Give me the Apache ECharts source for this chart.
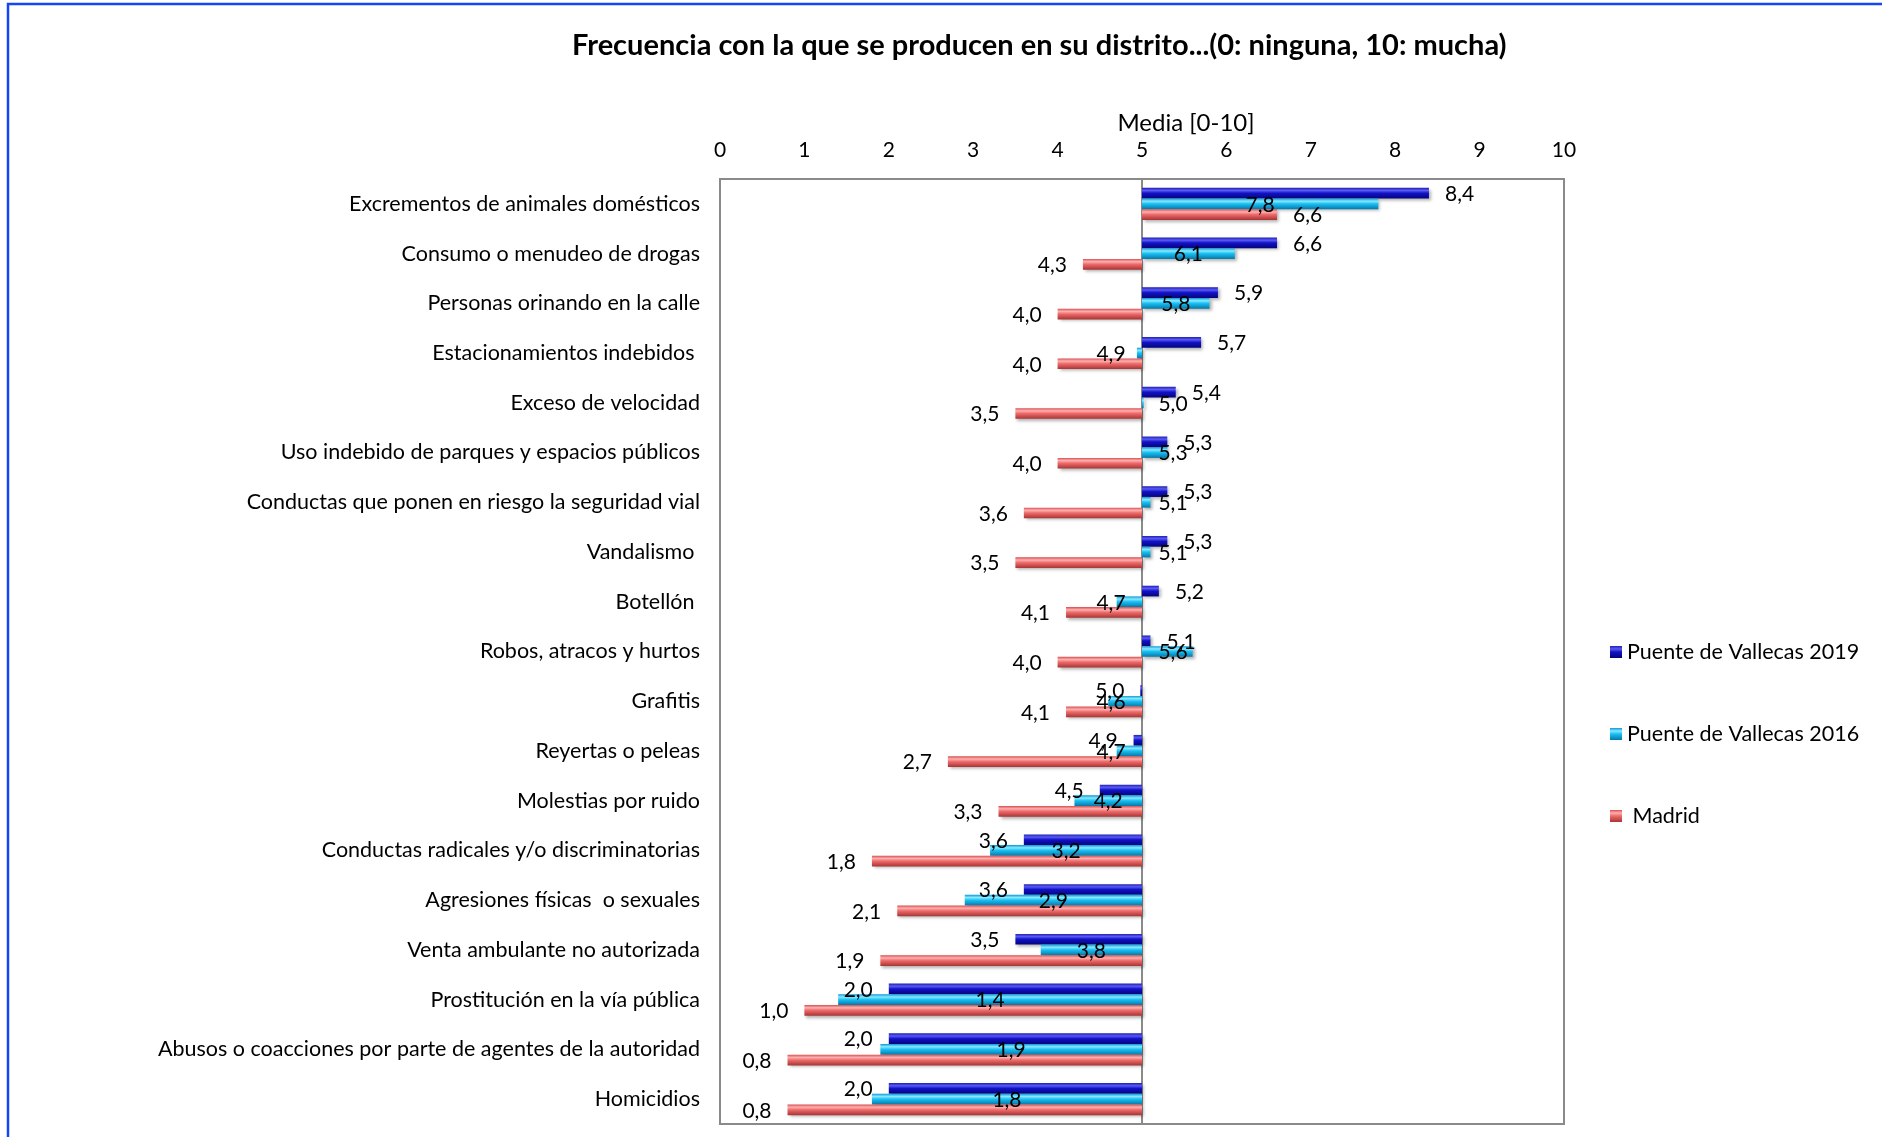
<!DOCTYPE html>
<html>
<head>
<meta charset="utf-8">
<title>Frecuencia</title>
<script src="https://cdn.jsdelivr.net/npm/echarts@6/dist/echarts.min.js"></script>
<style>
  html, body { margin: 0; padding: 0; background: #fff; }
  #chart { width: 1882px; height: 1137px; }
</style>
</head>
<body>
<div id="chart"></div>
<script>
const categories = [
  'Excrementos de animales domésticos',
  'Consumo o menudeo de drogas',
  'Personas orinando en la calle',
  'Estacionamientos indebidos ',
  'Exceso de velocidad',
  'Uso indebido de parques y espacios públicos',
  'Conductas que ponen en riesgo la seguridad vial',
  'Vandalismo ',
  'Botellón ',
  'Robos, atracos y hurtos',
  'Grafitis',
  'Reyertas o peleas',
  'Molestias por ruido',
  'Conductas radicales y/o discriminatorias',
  'Agresiones físicas  o sexuales',
  'Venta ambulante no autorizada',
  'Prostitución en la vía pública',
  'Abusos o coacciones por parte de agentes de la autoridad',
  'Homicidios'
]
const puente2019 = [8.4, 6.6, 5.9, 5.7, 5.4, 5.3, 5.3, 5.3, 5.2, 5.1, 4.98, 4.9, 4.5, 3.6, 3.6, 3.5, 2.0, 2.0, 2.0]
const puente2016 = [7.8, 6.1, 5.8, 4.94, 5.02, 5.3, 5.1, 5.1, 4.7, 5.6, 4.6, 4.7, 4.2, 3.2, 2.9, 3.8, 1.4, 1.9, 1.8]
const madrid = [6.6, 4.3, 4.0, 4.0, 3.5, 4.0, 3.6, 3.5, 4.1, 4.0, 4.1, 2.7, 3.3, 1.8, 2.1, 1.9, 1.0, 0.8, 0.8]
const xTicks = [0, 10]
const baseValue = 5

const chart = echarts.init(document.getElementById('chart'))

const grad = (top, hi, mid, bottom) => new echarts.graphic.LinearGradient(0, 0, 0, 1, [
  { offset: 0, color: top },
  { offset: 0.25, color: hi },
  { offset: 0.5, color: mid },
  { offset: 1, color: bottom }
])

const styles = [
  { name: 'Puente de Vallecas 2019', colors: ['#2020b0', '#5a5af5', '#1212c8', '#04047a'], label: 'outside' },
  { name: 'Puente de Vallecas 2016', colors: ['#0a9ad8', '#8ae8ff', '#18c0f4', '#0678a8'], label: 'center' },
  { name: ' Madrid', colors: ['#d85050', '#ffb0b0', '#ee6a6a', '#a83434'], label: 'outside' }
]

const fmt = v => v.toFixed(1).replace('.', ',')

function makeRender(slot, mode, colors) {
  return function(params, api) {
    const v = api.value(0)
    const cat = api.value(1)
    const p0 = api.coord([baseValue, cat])
    const p1 = api.coord([v, cat])
    const band = api.size([0, 1])[1]
    const h = band * 0.215
    const cy = p0[1] + (slot - 1) * h
    const x0 = Math.min(p0[0], p1[0])
    const w = Math.abs(p1[0] - p0[0])
    const sign = v >= baseValue ? 1 : -1
    let tx, align
    if (mode === 'center') {
      const d = Math.max(Math.abs(p1[0] - p0[0]) / 2, 31)
      tx = p0[0] + sign * d
      align = 'center'
    } else {
      tx = p1[0] + sign * 16
      align = sign > 0 ? 'left' : 'right'
    }
    return {
      type: 'group',
      children: [{
        type: 'rect',
        shape: { x: x0, y: cy - h / 2, width: Math.max(w, 0.5), height: h },
        style: {
          fill: grad(colors[0], colors[1], colors[2], colors[3]),
          shadowBlur: 3,
          shadowOffsetX: 2,
          shadowOffsetY: 2,
          shadowColor: 'rgba(0,0,0,0.3)'
        }
      }, {
        type: 'text',
        z2: 100,
        style: {
          text: fmt(v),
          x: tx,
          y: cy + 1,
          align: align,
          verticalAlign: 'middle',
          fontFamily: 'Lato',
          fontSize: 21,
          fill: '#000'
        }
      }]
    }
  }
}

const seriesData = [puente2019, puente2016, madrid]

const splitColors = []
for (let i = xTicks[0]; i <= xTicks[1]; i++) {
  splitColors.push(i === baseValue ? '#8a8a8a' : 'rgba(0,0,0,0)')
}

chart.setOption({
  backgroundColor: '#fff',
  animation: false,
  textStyle: { fontFamily: 'Lato' },
  title: {
    text: 'Frecuencia con la que se producen en su distrito...(0: ninguna, 10: mucha)',
    left: 567,
    top: 26,
    textStyle: { fontFamily: 'Lato', fontWeight: 'bold', fontSize: 29, color: '#000' }
  },
  legend: {
    orient: 'vertical',
    left: 1605,
    top: 636,
    itemWidth: 12,
    itemHeight: 12,
    itemGap: 60,
    icon: 'rect',
    textStyle: { fontFamily: 'Lato', fontSize: 21.5, color: '#000', lineHeight: 22 },
    data: styles.map(s => s.name)
  },
  grid: {
    left: 720,
    right: 318,
    top: 179,
    bottom: 13,
    show: true,
    borderColor: '#8a8a8a',
    borderWidth: 2
  },
  xAxis: {
    type: 'value',
    position: 'top',
    min: xTicks[0],
    max: xTicks[1],
    interval: 1,
    name: 'Media [0-10]',
    nameLocation: 'middle',
    nameGap: 44,
    nameTextStyle: { fontFamily: 'Lato', fontSize: 24, color: '#000', padding: [0, 0, 0, 88] },
    axisLine: { show: false },
    axisTick: { show: false },
    axisLabel: { fontFamily: 'Lato', fontSize: 21, color: '#000', margin: 18 },
    splitLine: { show: true, lineStyle: { color: splitColors, width: 2 } }
  },
  yAxis: {
    type: 'category',
    inverse: true,
    data: categories,
    axisLine: { show: false },
    axisTick: { show: false },
    axisLabel: { fontFamily: 'Lato', fontSize: 21.5, color: '#000', margin: 20 }
  },
  graphic: [{
    type: 'polyline',
    shape: { points: [[8, 1137], [8, 4], [1882, 4]] },
    style: { stroke: '#1446f5', lineWidth: 2.5, fill: null }
  }],
  series: styles.map((s, k) => ({
    name: s.name,
    type: 'custom',
    z: 3,
    itemStyle: { color: grad(s.colors[0], s.colors[1], s.colors[2], s.colors[3]) },
    encode: { x: 0, y: 1 },
    renderItem: makeRender(k, s.label, s.colors),
    data: seriesData[k].map((v, i) => [v, i])
  }))
})
</script>
</body>
</html>
